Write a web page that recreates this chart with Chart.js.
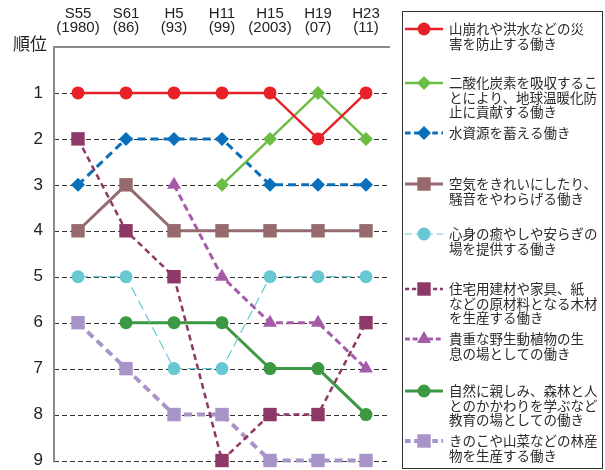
<!DOCTYPE html>
<html>
<head>
<meta charset="utf-8">
<script src="https://cdn.jsdelivr.net/npm/chart.js@4/dist/chart.umd.min.js"></script>
<style>
  html, body { margin: 0; padding: 0; background: #fff; }
  #wrap { width: 605px; height: 470px; position: relative; }
</style>
</head>
<body>
<div id="wrap"><canvas id="c" width="605" height="470"></canvas></div>
<script>
// ---- data ----
const categories = [["S55", "(1980)"], ["S61", "(86)"], ["H5", "(93)"], ["H11", "(99)"], ["H15", "(2003)"], ["H19", "(07)"], ["H23", "(11)"]];
const yAxisTitle = "順位";
const rankTicks = [1, 2, 3, 4, 5, 6, 7, 8, 9];

const disasterPrevention = [1, 1, 1, 1, 1, 2, 1];
const co2Absorption      = [null, null, null, 3, 2, 1, 2];
const waterStorage       = [3, 2, 2, 2, 3, 3, 3];
const airPurification    = [4, 3, 4, 4, 4, 4, 4];
const mentalHealing      = [5, 5, 7, 7, 5, 5, 5];
const timberProduction   = [2, 4, 5, 9, 8, 8, 6];
const wildlifeHabitat    = [null, null, 3, 5, 6, 6, 7];
const education          = [null, 6, 6, 6, 7, 7, 8];
const forestProducts     = [6, 7, 8, 8, 9, 9, 9];

const seriesLabels = [
  ["山崩れや洪水などの災", "害を防止する働き"],
  ["二酸化炭素を吸収するこ", "とにより、地球温暖化防", "止に貢献する働き"],
  ["水資源を蓄える働き"],
  ["空気をきれいにしたり、", "騒音をやわらげる働き"],
  ["心身の癒やしや安らぎの", "場を提供する働き"],
  ["住宅用建材や家具、紙", "などの原材料となる木材", "を生産する働き"],
  ["貴重な野生動植物の生", "息の場としての働き"],
  ["自然に親しみ、森林と人", "とのかかわりを学ぶなど", "教育の場としての働き"],
  ["きのこや山菜などの林産", "物を生産する働き"]
];

// ---- styles ----
const styles = [
  { color: "#e8202a", width: 2.5, dash: [],      shape: "circle",   r: 6.5 },
  { color: "#6cbd45", width: 2.5, dash: [],      shape: "rectRot",  r: 7 },
  { color: "#0a6fba", width: 3,   dash: [8, 5],  shape: "rectRot",  r: 7 },
  { color: "#966a6e", width: 3,   dash: [],      shape: "rect",     r: 9.5 },
  { color: "#67c8d3", width: 1.2, dash: [10, 5], shape: "circle",   r: 6.5 },
  { color: "#8e3867", width: 2.5, dash: [6, 4],  shape: "rect",     r: 9.5 },
  { color: "#a55ba8", width: 3,   dash: [7, 4],  shape: "triangle", r: 8 },
  { color: "#3d9844", width: 3,   dash: [],      shape: "circle",   r: 6.5 },
  { color: "#a894c8", width: 4,   dash: [8, 5],  shape: "rect",     r: 9.5 }
];
const seriesData = [disasterPrevention, co2Absorption, waterStorage, airPurification, mentalHealing,
                    timberProduction, wildlifeHabitat, education, forestProducts];

const datasets = seriesData.map((d, i) => ({
  label: seriesLabels[i].join(""),
  data: d,
  borderColor: styles[i].color,
  backgroundColor: styles[i].color,
  borderWidth: styles[i].width,
  borderDash: styles[i].dash,
  pointStyle: styles[i].shape,
  pointRadius: styles[i].r,
  pointBorderWidth: 0,
  pointBackgroundColor: styles[i].color,
  tension: 0,
  spanGaps: false,
  clip: false
}));

function drawMarker(ctx, shape, x, y, r, color) {
  ctx.save();
  ctx.fillStyle = color;
  ctx.setLineDash([]);
  ctx.beginPath();
  if (shape === "circle") {
    ctx.arc(x, y, r, 0, Math.PI * 2);
  } else if (shape === "rect") {
    const s = r * Math.SQRT1_2;
    ctx.rect(x - s, y - s, 2 * s, 2 * s);
  } else if (shape === "rectRot") {
    ctx.moveTo(x, y - r); ctx.lineTo(x + r, y); ctx.lineTo(x, y + r); ctx.lineTo(x - r, y);
    ctx.closePath();
  } else if (shape === "triangle") {
    const a = Math.PI / 3 * 2;
    ctx.moveTo(x, y - r);
    ctx.lineTo(x + Math.sin(a) * r, y - Math.cos(a) * r);
    ctx.lineTo(x - Math.sin(a) * r, y - Math.cos(a) * r);
    ctx.closePath();
  }
  ctx.fill();
  ctx.restore();
}

const legendRows = [29, 83, 133, 184, 234, 289, 339, 391, 441];

const extras = {
  id: "extras",
  beforeDatasetsDraw(chart) {
    const ctx = chart.ctx;
    const ys = chart.scales.y;
    const a = chart.chartArea;
    ctx.save();
    // dashed rank grid lines
    ctx.strokeStyle = "#333";
    ctx.lineWidth = 1;
    ctx.setLineDash([5, 3]);
    rankTicks.forEach(v => {
      const y = Math.round(ys.getPixelForValue(v)) + 0.5;
      ctx.beginPath();
      ctx.moveTo(a.left, y);
      ctx.lineTo(a.right, y);
      ctx.stroke();
    });
    ctx.setLineDash([]);
    // top line and left axis
    ctx.strokeStyle = "#8a8a8a";
    ctx.lineWidth = 2;
    const y0 = Math.round(ys.getPixelForValue(0));
    ctx.beginPath();
    ctx.moveTo(a.left - 1, y0);
    ctx.lineTo(a.right, y0);
    ctx.stroke();
    ctx.beginPath();
    ctx.moveTo(a.left, y0);
    ctx.lineTo(a.left, a.bottom + 2);
    ctx.stroke();
    ctx.restore();
  },
  afterDraw(chart) {
    const ctx = chart.ctx;
    ctx.save();
    // y title
    ctx.fillStyle = "#222";
    ctx.font = "17px 'Noto Sans CJK JP'";
    ctx.textAlign = "center";
    ctx.textBaseline = "middle";
    ctx.fillText(yAxisTitle, 30, 44);
    // legend box
    ctx.strokeStyle = "#333";
    ctx.lineWidth = 1;
    ctx.strokeRect(402.5, 11.5, 200, 457);
    ctx.font = "13.5px 'Noto Sans CJK JP'";
    ctx.textAlign = "left";
    seriesLabels.forEach((lines, i) => {
      const st = styles[i];
      const y = legendRows[i];
      ctx.save();
      ctx.strokeStyle = st.color;
      ctx.lineWidth = st.width;
      ctx.setLineDash(st.dash.map(v => v * 0.7));
      ctx.beginPath();
      ctx.moveTo(405, y);
      ctx.lineTo(443, y);
      ctx.stroke();
      ctx.restore();
      drawMarker(ctx, st.shape, 424, y, st.r, st.color);
      ctx.fillStyle = "#2a2a2a";
      lines.forEach((t, k) => ctx.fillText(t, 449, y + k * 14.5));
    });
    ctx.restore();
  }
};

new Chart(document.getElementById("c"), {
  type: "line",
  data: { labels: categories, datasets },
  plugins: [extras],
  options: {
    responsive: false,
    animation: false,
    events: [],
    layout: { padding: { top: 0, left: 0, right: 215, bottom: 5 } },
    plugins: { legend: { display: false }, tooltip: { enabled: false } },
    scales: {
      x: {
        type: "category",
        position: "top",
        offset: true,
        grid: { display: false, drawTicks: false },
        border: { display: false },
        ticks: {
          padding: 12,
          color: "#222",
          maxRotation: 0,
          autoSkip: false,
          font: { family: "'Liberation Sans', Arial, sans-serif", size: 15, lineHeight: 0.94 }
        },
        afterFit(s) { s.height = 47; s.paddingLeft = 0; s.paddingRight = 0; }
      },
      y: {
        reverse: true,
        min: 0,
        max: 9,
        afterBuildTicks(s) { s.ticks = [0].concat(rankTicks).map(v => ({ value: v })); },
        grid: { display: false, drawTicks: false },
        border: { display: false },
        ticks: {
          padding: 11,
          color: "#222",
          font: { family: "'Liberation Sans', Arial, sans-serif", size: 17 },
          callback: (v) => (v === 0 ? "" : String(v))
        },
        afterFit(s) { s.width = 54; s.paddingTop = 0; s.paddingBottom = 0; }
      }
    }
  }
});
</script>
</body>
</html>
